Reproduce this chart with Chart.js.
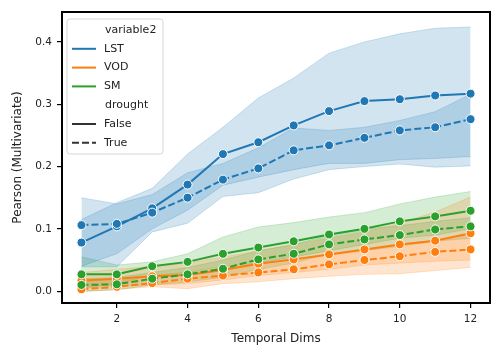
<!DOCTYPE html>
<html>
<head>
<meta charset="utf-8">
<script src="https://cdn.jsdelivr.net/npm/chart.js@4.4.1/dist/chart.umd.min.js"></script>
<style>
  html, body { margin: 0; padding: 0; background: #fff; }
</style>
</head>
<body>
<canvas id="dvCanvas" width="504" height="360"></canvas>
<script>
(function() {
  'use strict';

  var dims = [1, 2, 3, 4, 5, 6, 7, 8, 9, 10, 11, 12];
  var xTicks = [2, 4, 6, 8, 10, 12];
  var yTicks = [0.0, 0.1, 0.2, 0.3, 0.4];

  // LST
  var lstFalse   = [0.078, 0.104, 0.133, 0.171, 0.220, 0.239, 0.266, 0.289, 0.305, 0.308, 0.314, 0.317];
  var lstFalseHi = [0.115, 0.142, 0.165, 0.220, 0.263, 0.310, 0.342, 0.382, 0.400, 0.413, 0.422, 0.424];
  var lstFalseLo = [0.040, 0.060, 0.100, 0.130, 0.170, 0.183, 0.195, 0.205, 0.205, 0.211, 0.213, 0.216];
  var lstTrue    = [0.106, 0.108, 0.126, 0.150, 0.179, 0.197, 0.226, 0.234, 0.246, 0.258, 0.263, 0.276];
  var lstTrueHi  = [0.150, 0.140, 0.155, 0.190, 0.205, 0.230, 0.262, 0.258, 0.263, 0.274, 0.288, 0.316];
  var lstTrueLo  = [0.039, 0.039, 0.095, 0.109, 0.152, 0.158, 0.180, 0.195, 0.200, 0.204, 0.199, 0.201];

  // VOD
  var vodFalse   = [0.017, 0.020, 0.024, 0.026, 0.034, 0.044, 0.051, 0.059, 0.067, 0.075, 0.081, 0.093];
  var vodFalseHi = [0.030, 0.035, 0.040, 0.045, 0.055, 0.065, 0.075, 0.085, 0.095, 0.109, 0.127, 0.151];
  var vodFalseLo = [0.005, 0.008, 0.010, 0.012, 0.018, 0.025, 0.030, 0.035, 0.042, 0.045, 0.048, 0.050];
  var vodTrue    = [0.003, 0.007, 0.013, 0.020, 0.025, 0.030, 0.035, 0.043, 0.050, 0.056, 0.063, 0.067];
  var vodTrueHi  = [0.015, 0.020, 0.025, 0.030, 0.037, 0.045, 0.052, 0.058, 0.065, 0.075, 0.082, 0.090];
  var vodTrueLo  = [-0.001, 0.003, 0.007, 0.004, 0.012, 0.015, 0.020, 0.024, 0.027, 0.028, 0.033, 0.038];

  // SM
  var smFalse    = [0.027, 0.027, 0.040, 0.047, 0.060, 0.070, 0.080, 0.091, 0.100, 0.112, 0.120, 0.129];
  var smFalseHi  = [0.055, 0.042, 0.047, 0.060, 0.087, 0.103, 0.110, 0.119, 0.126, 0.140, 0.151, 0.160];
  var smFalseLo  = [0.005, 0.012, 0.025, 0.030, 0.040, 0.045, 0.055, 0.065, 0.075, 0.085, 0.090, 0.100];
  var smTrue     = [0.010, 0.011, 0.020, 0.027, 0.036, 0.051, 0.060, 0.075, 0.083, 0.090, 0.099, 0.104];
  var smTrueHi   = [0.020, 0.022, 0.030, 0.038, 0.050, 0.065, 0.075, 0.090, 0.100, 0.105, 0.112, 0.118];
  var smTrueLo   = [0.000, 0.002, 0.010, 0.015, 0.022, 0.035, 0.045, 0.060, 0.065, 0.072, 0.080, 0.085];

  var hueNames = ['LST', 'VOD', 'SM'];
  var hueColors = ['#1f77b4', '#ff7f0e', '#2ca02c'];
  var hueFills = ['rgba(31,119,180,0.2)', 'rgba(255,127,14,0.2)', 'rgba(44,160,44,0.2)'];
  var styleNames = ['False', 'True'];
  var dashes = [[], [7, 3]];

  var groups = [
    { hue: 0, style: 0, mean: lstFalse, hi: lstFalseHi, lo: lstFalseLo },
    { hue: 0, style: 1, mean: lstTrue,  hi: lstTrueHi,  lo: lstTrueLo },
    { hue: 1, style: 0, mean: vodFalse, hi: vodFalseHi, lo: vodFalseLo },
    { hue: 1, style: 1, mean: vodTrue,  hi: vodTrueHi,  lo: vodTrueLo },
    { hue: 2, style: 0, mean: smFalse,  hi: smFalseHi,  lo: smFalseLo },
    { hue: 2, style: 1, mean: smTrue,   hi: smTrueHi,   lo: smTrueLo }
  ];

  function toPts(arr) {
    return dims.map(function(d, i) { return { x: d, y: arr[i] }; });
  }

  var datasets = [];
  groups.forEach(function(g, k) {
    var loIndex = datasets.length;
    datasets.push({
      data: toPts(g.lo),
      borderColor: hueFills[g.hue],
      borderWidth: 1,
      pointRadius: 0,
      fill: false,
      order: 20 + k
    });
    datasets.push({
      data: toPts(g.hi),
      borderColor: hueFills[g.hue],
      borderWidth: 1,
      backgroundColor: hueFills[g.hue],
      pointRadius: 0,
      fill: { target: loIndex },
      order: 20 + k
    });
  });
  groups.forEach(function(g, k) {
    datasets.push({
      data: toPts(g.mean),
      borderColor: hueColors[g.hue],
      borderWidth: 2,
      borderDash: dashes[g.style],
      pointRadius: 4.5,
      pointHoverRadius: 4.5,
      pointBackgroundColor: hueColors[g.hue],
      pointBorderColor: '#fff',
      pointBorderWidth: 1,
      fill: false,
      order: 10 - k
    });
  });

  var framePlugin = {
    id: 'frame',
    afterDraw: function(chart) {
      var a = chart.chartArea, c = chart.ctx;
      c.save();
      c.strokeStyle = '#000';
      c.lineWidth = 2;
      c.strokeRect(a.left, a.top, a.right - a.left, a.bottom - a.top);
      c.restore();
    }
  };

  var legendPlugin = {
    id: 'boxLegend',
    afterDraw: function(chart) {
      var c = chart.ctx;
      var bx = 67, by = 19, bw = 96, bh = 135, r = 3;
      c.save();
      c.beginPath();
      c.moveTo(bx + r, by);
      c.arcTo(bx + bw, by, bx + bw, by + bh, r);
      c.arcTo(bx + bw, by + bh, bx, by + bh, r);
      c.arcTo(bx, by + bh, bx, by, r);
      c.arcTo(bx, by, bx + bw, by, r);
      c.closePath();
      c.fillStyle = 'rgba(255,255,255,0.8)';
      c.fill();
      c.strokeStyle = '#d6d6d6';
      c.lineWidth = 1;
      c.stroke();

      var rows = [{ text: 'variable2' }];
      hueNames.forEach(function(n, i) { rows.push({ text: n, color: hueColors[i], dash: [] }); });
      rows.push({ text: 'drought' });
      styleNames.forEach(function(n, i) { rows.push({ text: n, color: '#333', dash: dashes[i] }); });

      c.font = '11px "DejaVu Sans"';
      c.textBaseline = 'middle';
      rows.forEach(function(row, i) {
        var y = 30 + i * 18.8;
        if (row.color) {
          c.beginPath();
          c.setLineDash(row.dash);
          c.strokeStyle = row.color;
          c.lineWidth = 2;
          c.moveTo(72, y);
          c.lineTo(96, y);
          c.stroke();
          c.setLineDash([]);
        }
        c.fillStyle = '#222';
        c.fillText(row.text, row.color ? 104 : 105, y);
      });
      c.restore();
    }
  };

  Chart.defaults.font.family = '"DejaVu Sans", sans-serif';
  Chart.defaults.color = '#222';

  var ctx = document.getElementById('dvCanvas').getContext('2d');
  var myChart = new Chart(ctx, {
    type: 'line',
    data: { datasets: datasets },
    options: {
      responsive: false,
      animation: false,
      events: [],
      layout: { padding: { left: 0, top: 12, right: 14, bottom: 0 } },
      plugins: { legend: { display: false }, tooltip: { enabled: false } },
      scales: {
        x: {
          type: 'linear',
          min: 0.45,
          max: 12.55,
          afterFit: function(scale) { scale.height = 57; },
          afterBuildTicks: function(scale) {
            scale.ticks = xTicks.map(function(v) { return { value: v }; });
          },
          ticks: { font: { size: 10.5 }, color: '#222', padding: 5, maxRotation: 0 },
          grid: { drawOnChartArea: false, drawTicks: true, tickLength: 5, color: '#000', lineWidth: 1.2 },
          border: { display: false },
          title: { display: true, text: 'Temporal Dims', font: { size: 12 }, color: '#222', padding: { top: 0, bottom: 13.8 } }
        },
        y: {
          type: 'linear',
          min: -0.019,
          max: 0.448,
          afterFit: function(scale) { scale.width = 62; },
          afterBuildTicks: function(scale) {
            scale.ticks = yTicks.map(function(v) { return { value: v }; });
          },
          ticks: {
            font: { size: 10.5 }, color: '#222', padding: 5,
            callback: function(v) { return v.toFixed(1); }
          },
          grid: { drawOnChartArea: false, drawTicks: true, tickLength: 5, color: '#000', lineWidth: 1.2 },
          border: { display: false },
          title: { display: true, text: 'Pearson (Multivariate)', font: { size: 12 }, color: '#222', padding: { top: 10.8, bottom: 0 } }
        }
      }
    },
    plugins: [framePlugin, legendPlugin]
  });
})();
</script>
</body>
</html>
